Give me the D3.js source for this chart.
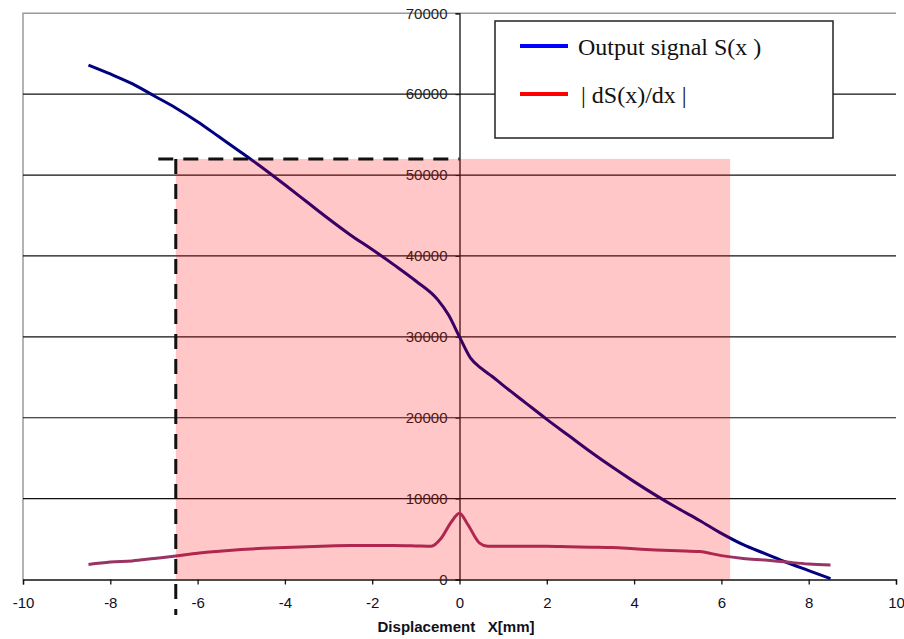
<!DOCTYPE html>
<html>
<head>
<meta charset="utf-8">
<script src="https://cdn.jsdelivr.net/npm/d3@7"></script>
<style>
  body { margin: 0; background: #fff; }
  text { font-family: Arial, "Liberation Sans", sans-serif; }
</style>
</head>
<body>
<script>
// output signal S(x)
const signalX = [-8.5, -8, -7.5, -7, -6.5, -6, -5.5, -5, -4.5, -4, -3.5, -3, -2.5, -2, -1.5, -1, -0.5, -0.25, 0, 0.25, 0.5, 0.75, 1, 1.5, 2, 2.5, 3, 3.5, 4, 4.5, 5, 5.5, 6, 6.5, 7, 7.5, 8, 8.5]
const signalY = [63600, 62500, 61300, 59800, 58300, 56600, 54700, 52800, 50850, 48800, 46700, 44600, 42600, 40800, 38900, 36900, 34600, 32700, 30000, 27400, 26100, 25100, 24000, 21900, 19800, 17800, 15800, 13900, 12100, 10400, 8800, 7300, 5700, 4300, 3200, 2100, 1100, 100]

// |dS(x)/dx|
const derivX = [-8.5, -8, -7.5, -7, -6.5, -6, -5.5, -5, -4.5, -4, -3.5, -3, -2.5, -2, -1.5, -1, -0.65, -0.42, -0.19, 0, 0.19, 0.46, 0.65, 1, 1.5, 2, 2.5, 3, 3.5, 4, 4.5, 5, 5.5, 6, 6.5, 7, 7.5, 8, 8.5]
const derivY = [1850, 2150, 2300, 2600, 2900, 3250, 3500, 3700, 3850, 3950, 4050, 4150, 4200, 4200, 4200, 4150, 4100, 5100, 7100, 8200, 6800, 4500, 4100, 4100, 4100, 4100, 4050, 4000, 3950, 3800, 3650, 3550, 3450, 2950, 2600, 2400, 2150, 1920, 1800]

// shaded range and dashed marker
const bandX = [-6.5, 6.2]
const bandTop = 52000
const dashH = [-6.9, 0]
const dashV = [52000, -4400]

const xTicks = [-10, -8, -6, -4, -2, 0, 2, 4, 6, 8, 10]
const yTicks = [0, 10000, 20000, 30000, 40000, 50000, 60000, 70000]
const legendNames = ["Output signal S(x )", "| dS(x)/dx |"]

let w = 904
let h = 639

let svg = d3.select("body")
  .append("svg")
  .attr("width", w)
  .attr("height", h)

let xScale = d3.scaleLinear().domain([-10, 10]).range([23, 896])
let yScale = d3.scaleLinear().domain([0, 70000]).range([579.5, 13.3])

// plot border (grey top + left)
svg.append("path")
  .attr("d", "M" + xScale(-10) + "," + yScale(0) + "V" + yScale(70000) + "H" + xScale(10))
  .attr("fill", "none")
  .attr("stroke", "#9a9a9a")
  .attr("stroke-width", 1.5)

// gridlines
svg.selectAll(".grid")
  .data(yTicks.filter(d => d > 0 && d < 70000))
  .enter()
  .append("line")
  .attr("class", "grid")
  .attr("x1", xScale(-10))
  .attr("x2", xScale(10))
  .attr("y1", d => yScale(d))
  .attr("y2", d => yScale(d))
  .attr("stroke", "#111")
  .attr("stroke-width", 1.2)

// x axis
let xAxis = d3.axisBottom(xScale).tickValues(xTicks).tickSize(5).tickFormat(d => d)
let gx = svg.append("g")
  .attr("transform", "translate(0," + yScale(0) + ")")
  .call(xAxis)
gx.select(".domain").attr("stroke", "#111").attr("stroke-width", 1.3)
gx.selectAll(".tick line").attr("stroke", "#111").attr("stroke-width", 1.3)
gx.selectAll(".tick text")
  .attr("y", 18)
  .attr("dy", "0.71em")
  .attr("font-size", 15)
  .attr("font-family", "Arial, 'Liberation Sans', sans-serif")
  .attr("fill", "#10101e")

// y axis through zero
let yAxis = d3.axisLeft(yScale).tickValues(yTicks).tickSize(4).tickFormat(d => d)
let gy = svg.append("g")
  .attr("transform", "translate(" + xScale(0) + ",0)")
  .call(yAxis)
gy.select(".domain").attr("stroke", "#111").attr("stroke-width", 1.3)
gy.selectAll(".tick line").attr("stroke", "#111")
gy.selectAll(".tick text")
  .attr("x", -12)
  .attr("font-size", 15)
  .attr("font-family", "Arial, 'Liberation Sans', sans-serif")
  .attr("fill", "#1e1e1e")

// curves
let signalLine = d3.line()
  .x((d, i) => xScale(signalX[i]))
  .y(d => yScale(d))
  .curve(d3.curveMonotoneX)

svg.append("path")
  .datum(signalY)
  .attr("d", signalLine)
  .attr("fill", "none")
  .attr("stroke", "#000080")
  .attr("stroke-width", 3)

let derivLine = d3.line()
  .x((d, i) => xScale(derivX[i]))
  .y(d => yScale(d))
  .curve(d3.curveMonotoneX)

svg.append("path")
  .datum(derivY)
  .attr("d", derivLine)
  .attr("fill", "none")
  .attr("stroke", "#993366")
  .attr("stroke-width", 3)

// translucent red band on top
svg.append("rect")
  .attr("x", xScale(bandX[0]))
  .attr("y", yScale(bandTop))
  .attr("width", xScale(bandX[1]) - xScale(bandX[0]))
  .attr("height", yScale(0) - yScale(bandTop))
  .attr("fill", "#ff0000")
  .attr("fill-opacity", 0.22)

// dashed marker
svg.append("path")
  .attr("d", "M" + xScale(dashH[0]) + "," + yScale(dashV[0]) + "H" + xScale(dashH[1])
    + "M" + xScale(bandX[0]) + "," + yScale(dashV[0]) + "V" + yScale(dashV[1]))
  .attr("fill", "none")
  .attr("stroke", "#111")
  .attr("stroke-width", 3)
  .attr("stroke-dasharray", "15,10")

// axis title
svg.append("text")
  .attr("x", 456)
  .attr("y", 632)
  .attr("text-anchor", "middle")
  .attr("font-size", 14)
  .attr("font-weight", "bold")
  .attr("fill", "#10101e")
  .attr("textLength", 157)
  .attr("lengthAdjust", "spacingAndGlyphs")
  .style("white-space", "pre")
  .text("Displacement   X[mm]")

// legend
let legend = svg.append("g")
legend.append("rect")
  .attr("x", 495)
  .attr("y", 21)
  .attr("width", 338)
  .attr("height", 117)
  .attr("fill", "#fff")
  .attr("stroke", "#222")
  .attr("stroke-width", 1.5)

const legendColors = ["#0000ff", "#ff0000"]
legend.selectAll(".leg")
  .data(legendNames)
  .enter()
  .append("line")
  .attr("x1", 520)
  .attr("x2", 568)
  .attr("y1", (d, i) => 46 + i * 48)
  .attr("y2", (d, i) => 46 + i * 48)
  .attr("stroke", (d, i) => legendColors[i])
  .attr("stroke-width", 4)

legend.selectAll(".legtext")
  .data(legendNames)
  .enter()
  .append("text")
  .attr("x", (d, i) => i == 0 ? 578 : 581)
  .attr("y", (d, i) => 55 + i * 48)
  .attr("font-size", 24)
  .style("font-family", "'Liberation Serif', 'Times New Roman', serif")
  .attr("fill", "#111")
  .text(d => d)
</script>
</body>
</html>
